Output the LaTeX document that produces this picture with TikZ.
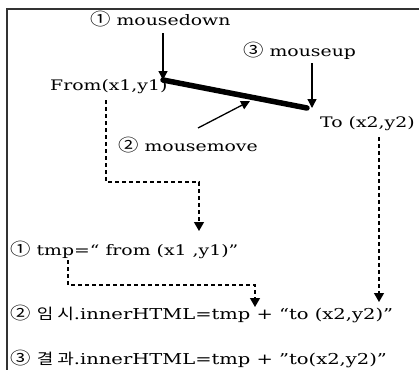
\documentclass[tikz,border=0pt]{standalone}
\usepackage{fontspec}
\setmainfont[FakeStretch=1.3]{DejaVu Serif}
\newfontfamily\kofont[FakeStretch=1.2]{Noto Sans CJK KR}
\usetikzlibrary{arrows.meta}
\tikzset{
  lbl/.style={anchor=base west, inner sep=0pt, font=\fontsize{14.5}{16}\selectfont},
  codelbl/.style={lbl, font=\fontsize{15}{16}\selectfont},
  solidarrow/.style={line width=1.3pt, -{Triangle[length=9pt,width=9pt]}},
  dasharrow/.style={line width=1.2pt, dash pattern=on 4pt off 3pt, -{Triangle[length=9pt,width=10pt]}},
  frameline/.style={line width=1.4pt, draw=black!80}
}
% circled step numbers and Korean words
\newcommand{\cnum}[1]{{\kofont\fontsize{17}{17}\selectfont #1}}
\newcommand{\kw}[2]{{\kofont #1\hspace{4pt}#2}}
\begin{document}
\begin{tikzpicture}[x=1pt,y=-1pt]
  \useasboundingbox (0,0) rectangle (419,370);
  % frame
  \draw[frameline] (419,9) -- (7,9) -- (7,370);

  % labels of the drag gesture
  \node[lbl] (down) at (90,25) {\cnum{①} mousedown};
  \node[lbl] (from) at (50,90) {From(x1,y1)};
  \node[lbl] (up) at (243,56) {\cnum{③} mouseup};
  \node[lbl] (to) at (320,127) {To (x2,y2)};
  \node[lbl] (move) at (118,151) {\cnum{②} mousemove};

  % the dragged line
  \coordinate (p1) at (163,80);
  \coordinate (p2) at (307,108);
  \draw[line width=5.5pt, line cap=round] (p1) -- (p2);

  % event arrows
  \coordinate (downtop) at (163,33);
  \coordinate (uptop) at (312,63);
  \coordinate (movetail) at (198,128);
  \coordinate (movetip) at (250,101);
  \draw[solidarrow] (downtop) -- (p1);
  \draw[solidarrow] (uptop) -- (p2 -| uptop);
  \draw[solidarrow] (movetail) -- (movetip);

  % code lines
  \node[lbl] (l1) at (10,255) {\cnum{①} tmp=“ from (x1 ,y1)”};
  \node[codelbl] (l2) at (10,319) {\cnum{②} \kw{임}{시}.innerHTML=tmp + “to (x2,y2)”};
  \node[codelbl] (l3) at (10,364) {\cnum{③} \kw{결}{과}.innerHTML=tmp + ”to(x2,y2)”};

  % data flow
  \coordinate (a1) at (106,100);
  \coordinate (a2) at (106,182);
  \coordinate (a3) at (199,182);
  \coordinate (a4) at (199,231);
  \draw[dasharrow] (a1) -- (a2) -- (a3) -- (a4);
  \coordinate (b1) at (68,260);
  \coordinate (b2) at (68,285);
  \coordinate (b3) at (255,285);
  \coordinate (b4) at (255,307);
  \draw[dasharrow] (b1) -- (b2) -- (b3) -- (b4);
  \coordinate (c1) at (379,137);
  \coordinate (c2) at (379,302);
  \draw[dasharrow] (c1) -- (c2);
\end{tikzpicture}
\end{document}
